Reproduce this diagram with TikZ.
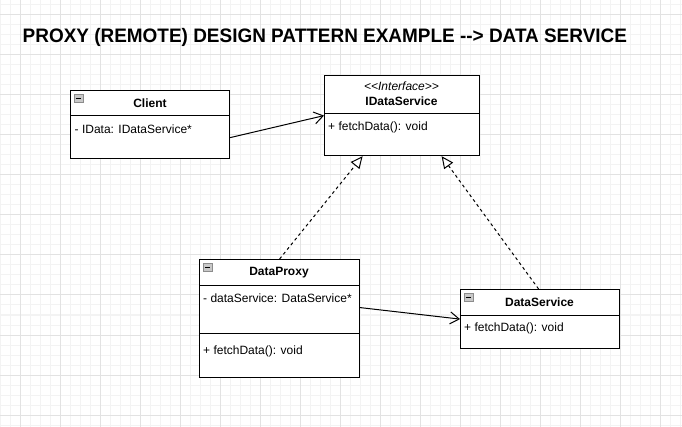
\documentclass[tikz,border=0pt]{standalone}
\usepackage{fontspec}
\setmainfont{Liberation Sans}
\usetikzlibrary{arrows.meta,calc}
\definecolor{gminor}{HTML}{F3F3F3}
\definecolor{gmajor}{HTML}{E2E2E2}
\definecolor{iconfill}{HTML}{C8C8C8}
\definecolor{iconline}{HTML}{8C8C8C}
\begin{document}
\begin{tikzpicture}[x=1pt,y=-1pt,
  umlbox/.style={draw=black,line width=1.2pt,rectangle,inner sep=0pt,fill=white,anchor=north west},
  divider/.style={draw=black,line width=1pt},
  nametxt/.style={inner sep=0pt,font=\fontsize{12}{14}\selectfont\bfseries},
  stereo/.style={inner sep=0pt,font=\fontsize{12}{14}\selectfont\itshape},
  membertxt/.style={inner sep=0pt,anchor=west,font=\fontsize{12}{14}\selectfont},
  iconbox/.style={draw=iconline,fill=iconfill,line width=0.6pt,rectangle,inner sep=0pt,minimum size=8.5pt,anchor=north west},
  assoc/.style={draw=black,line width=1pt,-{Straight Barb[length=9pt,width=12pt,line width=1pt]}},
  realize/.style={draw=black,line width=1pt,dash pattern=on 3pt off 3pt,-{Triangle[open,fill=white,length=12pt,width=11pt,line width=1pt]}},
  minorline/.style={draw=gminor,line width=1pt},
  majorline/.style={draw=gmajor,line width=1pt}]
\useasboundingbox (0,0) rectangle (682,427);
\fill[white] (0,0) rectangle (682,427);
% grid
\foreach \x in {0,10,...,680} \draw[minorline] (\x,0) -- (\x,427);
\foreach \y in {5,15,...,425} \draw[minorline] (0,\y) -- (682,\y);
\foreach \x in {20,60,...,660} \draw[majorline] (\x,0) -- (\x,427);
\foreach \y in {15,55,...,415} \draw[majorline] (0,\y) -- (682,\y);

% title
\node[inner sep=0pt,anchor=base west,font=\fontsize{19.5}{22}\selectfont\bfseries] (title) at (22.5,42.5)
  {\scalebox{0.972}[1]{PROXY (REMOTE) DESIGN PATTERN EXAMPLE -\kern0pt-\kern0pt> DATA SERVICE}};

% Client
\node[umlbox,minimum width=159pt,minimum height=68pt] (client) at (70,90) {};
\draw[divider] (client.west |- 0,115.5) -- (client.east |- 0,115.5);
\node[iconbox] (cicon) at (74,94) {};
\draw[line width=1pt] ($(cicon.west)+(1.8,0)$) -- ($(cicon.east)+(-1.8,0)$);
\node[nametxt] (cname) at (150,103) {Client};
\node[membertxt] (cattr) at (74.5,129) {- IData: IDataService*};

% IDataService
\node[umlbox,minimum width=155pt,minimum height=80pt] (ids) at (324,75) {};
\draw[divider] (ids.west |- 0,114) -- (ids.east |- 0,114);
\node[stereo] (istereo) at (401.5,86.5) {<\kern0pt<Interface>\kern0pt>};
\node[nametxt] (iname) at (401.5,101) {IDataService};
\node[membertxt] (iop) at (328,127.5) {+ fetchData(): void};

% DataProxy
\node[umlbox,minimum width=160pt,minimum height=118pt] (dp) at (199,259) {};
\draw[divider] (dp.west |- 0,285.5) -- (dp.east |- 0,285.5);
\draw[divider] (dp.west |- 0,333) -- (dp.east |- 0,333);
\node[iconbox] (picon) at (203,263) {};
\draw[line width=1pt] ($(picon.west)+(1.8,0)$) -- ($(picon.east)+(-1.8,0)$);
\node[nametxt] (pname) at (279,272.5) {DataProxy};
\node[membertxt] (pattr) at (203,298.5) {- dataService: DataService*};
\node[membertxt] (pop) at (203,351.5) {+ fetchData(): void};

% DataService
\node[umlbox,minimum width=159pt,minimum height=59pt] (ds) at (460,289) {};
\draw[divider] (ds.west |- 0,315.5) -- (ds.east |- 0,315.5);
\node[iconbox] (sicon) at (464,293) {};
\draw[line width=1pt] ($(sicon.west)+(1.8,0)$) -- ($(sicon.east)+(-1.8,0)$);
\node[nametxt] (sname) at (539.5,302) {DataService};
\node[membertxt] (sop) at (464,328.5) {+ fetchData(): void};

% connectors
\draw[assoc] ([yshift=-13pt]client.east) -- (ids.west);
\draw[assoc] ([yshift=11pt]dp.east) -- (ds.west);
\draw[realize] (dp.north) -- ([xshift=-39.5pt]ids.south);
\draw[realize] ([xshift=-1.5pt]ds.north) -- ([xshift=39.5pt]ids.south);
\end{tikzpicture}
\end{document}
